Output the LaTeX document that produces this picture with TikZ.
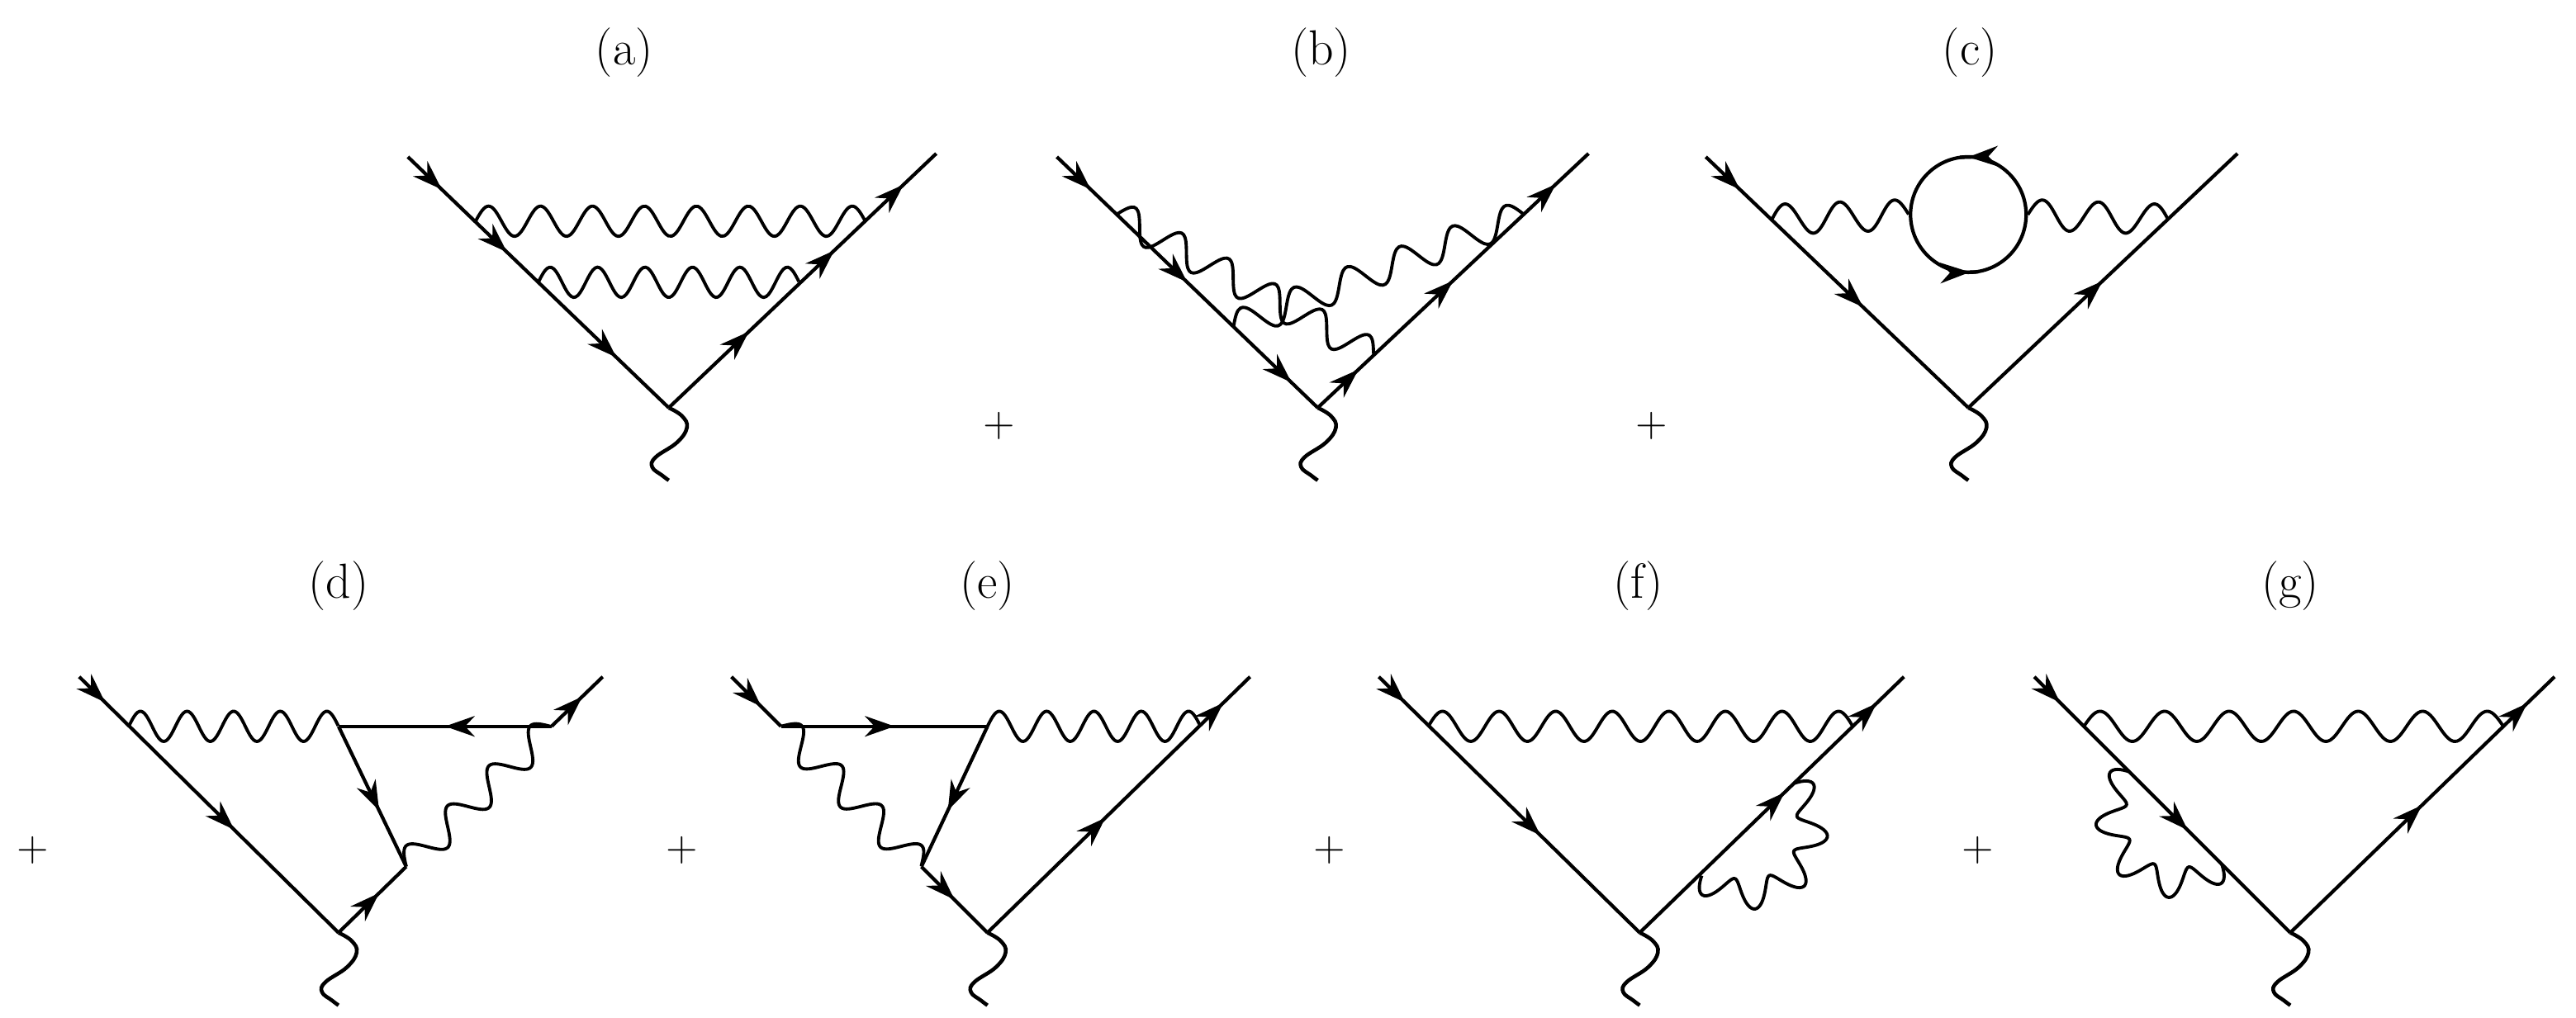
\documentclass[tikz,border=0pt]{standalone}
\usetikzlibrary{decorations.markings,arrows.meta,calc}
\newcommand{\phline}[3]{%
  \draw[line width=1.1pt] let \p1=($(#2)-(#1)$), \n1={veclen(\x1,\y1)}, \n2={atan2(\y1,\x1)} in
   [shift={(#1)}, rotate=\n2] plot[domain=0:1, samples=120, smooth] ({\x*\n1},{5.2pt*sin(\x*#3*360)});}
\newcommand{\phloop}[4]{%
  \draw[line width=1.1pt,shift={(#1)}] plot[domain=0:1, samples=140, smooth]
   ({(#2+5pt*sin(\x*#4*360))*cos(#3+180*\x)},{(#2+5pt*sin(\x*#4*360))*sin(#3+180*\x)});}
\begin{document}
\begin{tikzpicture}[x=0.2mm,y=-0.2mm,
  ferm/.style={line width=1.2pt},
  fa/.style={postaction={decorate,decoration={markings,mark=at position #1 with {\arrow{Stealth[length=3.6mm,width=2.5mm]}}}}},
  lab/.style={font=\fontsize{17}{20}\selectfont},
  plus/.style={font=\fontsize{14}{16}\selectfont},
  tail/.pic={\draw[line width=1.3pt] plot[smooth,tension=0.7] coordinates {(0,0) (8,5) (11,12) (5,21) (-8,30) (-10,36) (-4,41) (0,44)};}]
\useasboundingbox (0,0) rectangle (1560,616.5);
% labels
\node[lab] (la) at (378,32) {(a)};
\node[lab] (lb) at (800,32) {(b)};
\node[lab] (lc) at (1193,32) {(c)};
\node[lab] (ld) at (205,355) {(d)};
\node[lab] (le) at (598,355) {(e)};
\node[lab] (lf) at (992,355) {(f)};
\node[lab] (lg) at (1387,355) {(g)};
\node[plus] (p1) at (605,258) {$+$};
\node[plus] (p2) at (1000,258) {$+$};
\node[plus] (p3) at (20,515) {$+$};
\node[plus] (p4) at (413,515) {$+$};
\node[plus] (p5) at (805,515) {$+$};
\node[plus] (p6) at (1198,515) {$+$};
% (a)
\coordinate (aS) at (247,95); \coordinate (aV) at (405,247); \coordinate (aE) at (567,93);
\draw[ferm,fa=0.13,fa=0.38,fa=0.8] (aS) -- (aV);
\draw[ferm,fa=0.3,fa=0.62,fa=0.88] (aV) -- (aE);
\coordinate (a1) at (288,134); \coordinate (a2) at (524,134);
\coordinate (a3) at (326,171); \coordinate (a4) at (484,171);
\phline{a1}{a2}{7.5}
\phline{a3}{a4}{5.5}
\pic at (aV) {tail};
% (b)
\coordinate (bS) at (640,95); \coordinate (bV) at (798,247); \coordinate (bE) at (962,93);
\draw[ferm,fa=0.13,fa=0.5,fa=0.9] (bS) -- (bV);
\draw[ferm,fa=0.15,fa=0.5,fa=0.88] (bV) -- (bE);
\coordinate (b1) at (676,130); \coordinate (b2) at (832,215);
\coordinate (b3) at (747,198); \coordinate (b4) at (923,130);
\phline{b1}{b2}{5.5}
\phline{b3}{b4}{5.5}
\pic at (bV) {tail};
% (c)
\coordinate (cS) at (1033,95); \coordinate (cV) at (1192,247); \coordinate (cE) at (1355,93);
\draw[ferm,fa=0.13,fa=0.6] (cS) -- (cV);
\draw[ferm,fa=0.5] (cV) -- (cE);
\node[circle,draw,line width=1.2pt,minimum size=14mm,inner sep=0pt] (loop) at (1192,130) {};
\draw[line width=1.2pt,fa=0.5] (1197,95) -- (1187,95.3);
\draw[line width=1.2pt,fa=0.5] (1188,165) -- (1198,164.7);
\coordinate (c1) at (1073,133); \coordinate (c2) at (1313,133);
\phline{c1}{loop.west}{2.5}
\phline{loop.east}{c2}{2.5}
\pic at (cV) {tail};
% (d)
\coordinate (dS) at (48,410); \coordinate (dV) at (205,565); \coordinate (dE) at (365,410);
\coordinate (dA) at (78,440); \coordinate (dB) at (205,440); \coordinate (dC) at (334,440); \coordinate (dD) at (246,525);
\draw[ferm,fa=0.1,fa=0.6] (dS) -- (dV);
\draw[ferm,fa=0.6] (dV) -- (dD);
\draw[ferm,fa=0.6] (dB) -- (dD);
\draw[ferm,fa=0.5] (dC) -- (dB);
\draw[ferm,fa=0.6] (dC) -- (dE);
\phline{dA}{dB}{4.5}
\phline{dD}{dC}{3.5}
\pic at (dV) {tail};
% (e)
\coordinate (eS) at (443,410); \coordinate (eV) at (598,565); \coordinate (eE) at (757,410);
\coordinate (eA) at (473,440); \coordinate (eB) at (598,440); \coordinate (eC) at (727,440); \coordinate (eD) at (558,525);
\draw[ferm,fa=0.6] (eS) -- (eA);
\draw[ferm,fa=0.55] (eA) -- (eB);
\draw[ferm,fa=0.6] (eB) -- (eD);
\draw[ferm,fa=0.5] (eD) -- (eV);
\draw[ferm,fa=0.45,fa=0.9] (eV) -- (eE);
\phline{eB}{eC}{4.5}
\phline{eA}{eD}{3.5}
\pic at (eV) {tail};
% (f)
\coordinate (fS) at (835,410); \coordinate (fV) at (993,565); \coordinate (fE) at (1153,410);
\coordinate (fA) at (1030,530); \coordinate (fB) at (1087,475); \coordinate (fM) at (1058.5,502.5);
\coordinate (f1) at (865,440); \coordinate (f2) at (1122,440);
\draw[ferm,fa=0.1,fa=0.62] (fS) -- (fV);
\draw[ferm,fa=0.55,fa=0.9] (fV) -- (fE);
\phline{f1}{f2}{7.5}
\phloop{fM}{22.5pt}{225}{4.5}
\pic at (fV) {tail};
% (g)
\coordinate (gS) at (1232,410); \coordinate (gV) at (1387,565); \coordinate (gE) at (1547,410);
\coordinate (gA) at (1290,468); \coordinate (gB) at (1345,523); \coordinate (gM) at (1317.5,495.5);
\coordinate (g1) at (1262,440); \coordinate (g2) at (1516,440);
\draw[ferm,fa=0.1,fa=0.6] (gS) -- (gV);
\draw[ferm,fa=0.5,fa=0.9] (gV) -- (gE);
\phline{g1}{g2}{6.5}
\phloop{gM}{22.5pt}{135}{4.5}
\pic at (gV) {tail};
\end{tikzpicture}
\end{document}
